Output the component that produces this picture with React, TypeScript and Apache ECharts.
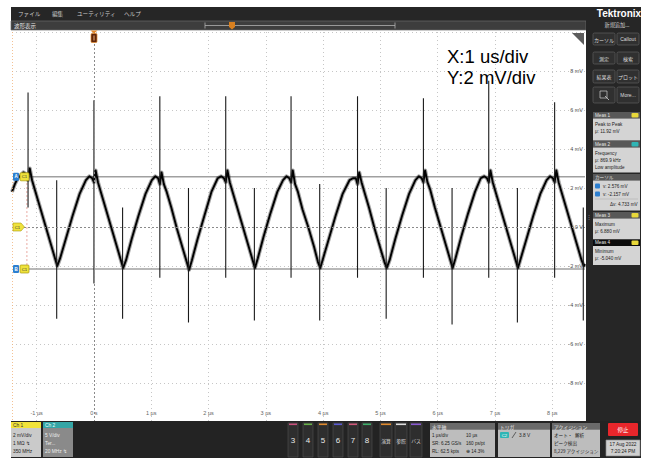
import React, { useEffect, useRef } from 'react';
import * as echarts from 'echarts';

// ---------- axis data ----------
const X_MIN = -1.43;
const X_MAX = 8.57;
const xTicks = [-1, 0, 1, 2, 3, 4, 5, 6, 7, 8];
const xTickLabels = ['-1 µs', '0 s', '1 µs', '2 µs', '3 µs', '4 µs', '5 µs', '6 µs', '7 µs', '8 µs'];
const yTicks = [-8, -6, -4, -2, 0, 2, 4, 6, 8];
const yTickLabels = ['-8 mV', '-6 mV', '-4 mV', '-2 mV', '0 V', '2 mV', '4 mV', '6 mV', '8 mV'];

// ---------- waveform (µs, mV) ----------
const traceT = [
  -1.43, -1.38, -1.33,
  -1.29, -1.23, -1.18, -1.15, -1.12, -1.08, -1.03, -0.95, -0.85, -0.75, -0.68, -0.64, -0.59, -0.49, -0.37, -0.25,
  -0.14, -0.08, -0.03, 0, 0.03, 0.07, 0.12, 0.2, 0.3, 0.4, 0.47, 0.51, 0.56, 0.66, 0.78, 0.9,
  1.01, 1.07, 1.12, 1.15, 1.18, 1.22, 1.27, 1.35, 1.45, 1.55, 1.62, 1.66, 1.71, 1.81, 1.93, 2.05,
  2.16, 2.22, 2.27, 2.3, 2.33, 2.37, 2.42, 2.5, 2.6, 2.7, 2.77, 2.81, 2.86, 2.96, 3.08, 3.2,
  3.3, 3.36, 3.41, 3.44, 3.47, 3.51, 3.56, 3.64, 3.74, 3.84, 3.91, 3.95, 4.0, 4.1, 4.22, 4.34,
  4.46, 4.52, 4.57, 4.6, 4.63, 4.67, 4.72, 4.8, 4.9, 5.0, 5.07, 5.11, 5.16, 5.26, 5.38, 5.5,
  5.61, 5.67, 5.72, 5.75, 5.78, 5.82, 5.87, 5.95, 6.05, 6.15, 6.22, 6.26, 6.31, 6.41, 6.53, 6.65,
  6.75, 6.81, 6.86, 6.89, 6.92, 6.96, 7.01, 7.09, 7.19, 7.29, 7.36, 7.4, 7.45, 7.55, 7.67, 7.79,
  7.9, 7.96, 8.01, 8.04, 8.07, 8.11, 8.16, 8.24, 8.34, 8.44, 8.51, 8.55, 8.57,
];
const traceV = [
  1.8, 2.2, 2.5,
  2.6, 2.8, 2.7, 2.4, 3.0, 2.4, 1.9, 1.1, 0.1, -0.9, -1.6, -2.0, -1.6, -0.6, 0.6, 1.7,
  2.4, 2.6, 2.5, 2.3, 2.9, 2.3, 1.8, 1.0, 0.0, -1.0, -1.7, -2.1, -1.7, -0.6, 0.6, 1.7,
  2.4, 2.6, 2.5, 2.2, 2.8, 2.2, 1.8, 1.0, -0.1, -1.1, -1.8, -2.2, -1.7, -0.6, 0.6, 1.8,
  2.5, 2.6, 2.5, 2.3, 2.9, 2.3, 1.8, 1.0, 0.0, -1.0, -1.7, -2.1, -1.6, -0.5, 0.7, 1.8,
  2.4, 2.6, 2.5, 2.3, 2.9, 2.2, 1.8, 0.9, 0.0, -1.0, -1.8, -2.1, -1.6, -0.6, 0.6, 1.7,
  2.4, 2.5, 2.5, 2.2, 2.8, 2.3, 1.8, 1.0, -0.1, -1.1, -1.8, -2.1, -1.7, -0.6, 0.6, 1.7,
  2.4, 2.6, 2.5, 2.3, 2.9, 2.3, 1.9, 1.0, 0.0, -1.0, -1.7, -2.1, -1.6, -0.5, 0.7, 1.8,
  2.5, 2.6, 2.5, 2.3, 2.9, 2.3, 1.8, 1.0, 0.0, -1.0, -1.7, -2.1, -1.6, -0.6, 0.6, 1.7,
  2.4, 2.6, 2.5, 2.3, 2.9, 2.3, 1.8, 1.0, 0.0, -1.0, -1.7, -2.0, -1.9,
];

// ringing spikes
const upSpikeT = [-1.15, 0, 1.15, 2.3, 3.44, 4.6, 5.75, 6.89, 8.04];
const upSpikeTop = [6.9, 6.5, 6.7, 6.7, 6.7, 6.7, 6.6, 7.5, 6.4];
const upSpikeBottom = [1.0, -2.9, -2.6, -2.6, -2.6, -2.6, -2.6, -2.6, -2.6];
const downSpikeT = [-0.65, 0.5, 1.65, 2.8, 3.94, 5.1, 6.25, 7.39, 8.54];
const downSpikeBottom = [-4.7, -4.7, -4.9, -4.8, -4.8, -4.7, -5.0, -4.9, -4.8];
const downSpikeTop = [2.4, 1.0, 2.0, 2.0, 2.2, 2.0, 2.0, 2.0, 1.0];

// cursors
const cursorA = 2.576;
const cursorB = -2.157;
const cursorStartT = -1.17;

const FONT = '"Liberation Sans", Arial, sans-serif';
const JP = '"Noto Sans CJK JP", "Noto Sans", sans-serif';

type Any = any;

const txt = (x: number, y: number, text: string, size: number, fill: string, o: Any = {}): Any => ({
  type: 'text',
  x,
  y,
  z: 100,
  silent: true,
  style: {
    text,
    fontSize: size,
    fill,
    fontFamily: o.font || FONT,
    fontWeight: o.weight || 'normal',
    textAlign: o.align || 'left',
    textVerticalAlign: 'middle',
  },
});

const rect = (x: number, y: number, w: number, h: number, fill: string, stroke?: string, r = 0): Any => ({
  type: 'rect',
  z: 90,
  silent: true,
  shape: { x, y, width: w, height: h, r },
  style: { fill, stroke: stroke || 'none', lineWidth: stroke ? 0.7 : 0 },
});

const line = (x1: number, y1: number, x2: number, y2: number, stroke: string, lw = 1, dash?: number[]): Any => ({
  type: 'line',
  z: 95,
  silent: true,
  shape: { x1, y1, x2, y2 },
  style: { stroke, lineWidth: lw, lineDash: dash },
});

function buildGraphics(): Any[] {
  const g: Any[] = [];
  // chrome
  g.push(rect(11, 7, 630, 14, '#262626'));
  g.push(rect(11, 21, 575, 9, '#3d3d3d', '#6a6a6a'));
  g.push(rect(586, 7, 55, 414, '#262626'));
  g.push(rect(11, 421, 630, 37, '#232323'));
  // menu
  g.push(txt(18, 14, 'ファイル', 5.6, '#c8c8c8', { font: JP }));
  g.push(txt(52, 14, '編集', 5.6, '#c8c8c8', { font: JP }));
  g.push(txt(77, 14, 'ユーティリティ', 5.6, '#c8c8c8', { font: JP }));
  g.push(txt(124, 14, 'ヘルプ', 5.6, '#c8c8c8', { font: JP }));
  g.push(txt(14, 25.5, '波形表示', 5.5, '#e6e6e6', { font: JP }));
  // overview bracket
  g.push(line(205, 25.5, 395, 25.5, '#b0b0b0', 0.8));
  g.push(line(205, 22.5, 205, 28.5, '#b0b0b0', 0.8));
  g.push(line(395, 22.5, 395, 28.5, '#b0b0b0', 0.8));
  g.push({ type: 'polygon', z: 100, silent: true, shape: { points: [[229, 22], [235, 22], [235, 27], [232, 29.5], [229, 27]] }, style: { fill: '#d9801f' } });
  // trigger marker
  g.push({ type: 'polygon', z: 100, silent: true, shape: { points: [[90.5, 30.5], [97.5, 30.5], [94, 33.5]] }, style: { fill: '#e58a2a' } });
  g.push(rect(91, 33.5, 6, 9, '#5e260c', '#e58a2a', 1));
  g.push(line(94, 35.5, 94, 40.5, '#f0b070', 1));
  // corner flag
  g.push({ type: 'polygon', z: 100, silent: true, shape: { points: [[572, 33], [584, 33], [584, 45]] }, style: { fill: '#5c5c5c' } });
  // left edge dotted line
  g.push(line(12.5, 32, 12.5, 420, '#f1b27a', 0.8, [1, 2]));
  // left markers
  const cy = [176.8, 269];
  cy.forEach((y, i) => {
    g.push(rect(13, y - 4, 6, 8, '#2d7fd0', undefined, 1));
    g.push(txt(16, y, i === 0 ? 'A' : 'B', 4.5, '#ffffff', { align: 'center', weight: 'bold' }));
    g.push(rect(20, y - 4, 9, 8, '#efe23c', '#a89a10', 1));
    g.push(txt(24.5, y, 'C1', 4.2, '#333', { align: 'center' }));
  });
  g.push({ type: 'polygon', z: 100, silent: true, shape: { points: [[13, 223], [21, 223], [24.5, 227], [21, 231], [13, 231]] }, style: { fill: '#efe23c', stroke: '#a89a10', lineWidth: 0.6 } });
  g.push(txt(17.5, 227, 'C1', 4.2, '#333', { align: 'center' }));

  // overlay text
  g.push(txt(447, 56.5, 'X:1 us/div', 18.5, '#000', { font: FONT }));
  g.push(txt(447, 77, 'Y:2 mV/div', 18.5, '#000', { font: FONT }));

  // right panel
  g.push(txt(619, 13, 'Tektronix', 10, '#ffffff', { align: 'center', weight: 'bold' }));
  g.push(txt(617, 24, '新規追加...', 5.2, '#d0d0d0', { align: 'center', font: JP }));
  const btn = (x: number, y: number, w: number, h: number, label: string, font = JP) => {
    g.push(rect(x, y, w, h, '#303030', '#5e5e5e', 1.5));
    g.push(txt(x + w / 2, y + h / 2, label, 5, '#dcdcdc', { align: 'center', font }));
  };
  btn(593, 33, 22, 12, 'カーソル');
  btn(617, 33, 22, 12, 'Callout', FONT);
  btn(593, 52, 22, 12, '測定');
  btn(617, 52, 22, 12, '検索');
  btn(593, 70, 22, 13, '結果表');
  btn(617, 70, 22, 13, 'プロット');
  btn(593, 87, 22, 16, '');
  btn(617, 87, 22, 16, 'More...', FONT);
  g.push(rect(600, 91, 7, 7, 'none', '#cfcfcf'));
  g.push(line(605, 96, 609, 100, '#cfcfcf', 0.8));

  const header = (y: number, label: string, badge: string | null, dark = false, font = FONT) => {
    g.push(rect(593, y, 47, 6.5, dark ? '#0c0c0c' : '#585858'));
    g.push(txt(595, y + 3.3, label, 4.6, '#e6e6e6', { font }));
    if (badge) {
      g.push(rect(631.5, y + 1, 7, 4.5, badge, undefined, 1));
    }
  };
  const body = (y: number, h: number) => g.push(rect(593, y, 47, h, '#d4d4d4'));
  header(112, 'Meas 1', '#e8d83a');
  body(118.5, 22);
  g.push(txt(595, 124, 'Peak to Peak', 4.6, '#222'));
  g.push(txt(595, 131, 'μ: 11.92 mV', 4.6, '#222'));
  header(141, 'Meas 2', '#2fb5b5');
  body(147.5, 25);
  g.push(txt(595, 153, 'Frequency', 4.6, '#222'));
  g.push(txt(595, 160, 'μ: 869.9 kHz', 4.6, '#222'));
  g.push(txt(595, 167, 'Low amplitude', 4.6, '#222'));
  header(174, 'カーソル', null, false, JP);
  body(180.5, 30);
  g.push(rect(595, 183.5, 5, 5, '#2d7fd0', undefined, 1));
  g.push(txt(603, 186, 'v: 2.576 mV', 4.6, '#222'));
  g.push(rect(595, 191.5, 5, 5, '#2d7fd0', undefined, 1));
  g.push(txt(603, 194, 'v: -2.157 mV', 4.6, '#222'));
  g.push(line(595, 199, 638, 199, '#aaaaaa', 0.5));
  g.push(txt(610, 204, 'Δv: 4.733 mV', 4.6, '#222'));
  header(212, 'Meas 3', '#e8d83a');
  body(218.5, 21);
  g.push(txt(595, 224, 'Maximum', 4.6, '#222'));
  g.push(txt(595, 231, 'μ: 6.880 mV', 4.6, '#222'));
  header(239.5, 'Meas 4', '#e8d83a', true);
  body(246, 19);
  g.push(txt(595, 251, 'Minimum', 4.6, '#222'));
  g.push(txt(595, 258, 'μ: -5.040 mV', 4.6, '#222'));
  g.push(txt(588.5, 217, '⋮', 6, '#888', { align: 'center' }));

  // bottom bar : channels
  g.push(rect(11, 422, 30, 6, '#f2e33a'));
  g.push(txt(13, 425, 'Ch 1', 4.8, '#333'));
  g.push(rect(11, 428, 30, 29, '#cacaca'));
  g.push(txt(13, 435, '2 mV/div', 4.8, '#222'));
  g.push(txt(13, 443, '1 MΩ ↯', 4.8, '#222'));
  g.push(txt(13, 451, '350 MHz', 4.8, '#222'));
  g.push(rect(43, 422, 30, 6, '#35a6a6'));
  g.push(txt(45, 425, 'Ch 2', 4.8, '#e8ffff'));
  g.push(rect(43, 428, 30, 29, '#8a8a8a'));
  g.push(txt(45, 435, '5 V/div', 4.8, '#eeeeee'));
  g.push(txt(45, 443, 'Ter...', 4.8, '#eeeeee'));
  g.push(txt(45, 451, '20 MHz ↯', 4.8, '#eeeeee'));

  const chBtn = [
    { x: 288, n: '3', c: '#c8507c' },
    { x: 303, n: '4', c: '#68b04a' },
    { x: 318, n: '5', c: '#e08a2e' },
    { x: 333, n: '6', c: '#5a5ad0' },
    { x: 348, n: '7', c: '#d0587a' },
    { x: 362, n: '8', c: '#3fae6a' },
  ];
  chBtn.forEach((b) => {
    g.push(rect(b.x, 423, 10, 34, '#2e2e2e', '#4a4a4a'));
    g.push(rect(b.x + 1, 423.5, 8, 1.6, b.c));
    g.push(txt(b.x + 5, 440, b.n, 8, '#e8e8e8', { align: 'center' }));
  });
  const fnBtn = [
    { x: 380, n: '演算', c: '#e08a2e' },
    { x: 395, n: '参照', c: '#dddddd' },
    { x: 410, n: 'バス', c: '#8a5ad0' },
  ];
  fnBtn.forEach((b) => {
    g.push(rect(b.x, 423, 12, 34, '#2e2e2e', '#4a4a4a'));
    g.push(rect(b.x + 1, 423.5, 10, 1.6, b.c));
    g.push(txt(b.x + 6, 440, b.n, 4.8, '#dddddd', { align: 'center', font: JP }));
  });
  // horizontal panel
  const panel = (x: number, w: number, title: string) => {
    g.push(rect(x, 423, w, 6.5, '#6a6a6a'));
    g.push(txt(x + 2, 426.3, title, 4.8, '#f0f0f0', { font: JP }));
    g.push(rect(x, 429.5, w, 27.5, '#bdbdbd'));
  };
  panel(430, 65, '水平軸');
  g.push(txt(432, 435, '1 µs/div', 4.6, '#222'));
  g.push(txt(466, 435, '10 µs', 4.6, '#222'));
  g.push(txt(432, 443, 'SR: 6.25 GS/s', 4.6, '#222'));
  g.push(txt(466, 443, '160 ps/pt', 4.6, '#222'));
  g.push(txt(432, 451, 'RL: 62.5 kpts', 4.6, '#222'));
  g.push(txt(466, 451, '⊕ 14.3%', 4.6, '#222'));
  panel(498, 52, 'トリガ');
  g.push(rect(500, 432, 9, 6, '#2fb5b5', undefined, 1));
  g.push(txt(504.5, 435, 'C2', 4.2, '#ffffff', { align: 'center' }));
  g.push(line(512, 438, 516, 432, '#333', 0.7));
  g.push(txt(519, 435, '3.8 V', 4.8, '#222'));
  panel(552, 48, 'アクイジション');
  g.push(txt(554, 435, 'オート・', 4.6, '#222', { font: JP }));
  g.push(txt(575, 435, '解析', 4.6, '#222', { font: JP }));
  g.push(txt(554, 443, 'ピーク検出', 4.6, '#222', { font: JP }));
  g.push(txt(554, 451, '8,229 アクイジション', 4.6, '#222', { font: JP }));
  // stop & date
  g.push(rect(608, 423, 30, 13, '#e8262b', undefined, 1));
  g.push(txt(623, 429.5, '停止', 5.5, '#ffffff', { align: 'center', font: JP }));
  g.push(rect(606, 440, 34, 16, '#cfcfcf', '#8a8a8a'));
  g.push(txt(623, 444.5, '17 Aug 2022', 4.8, '#222', { align: 'center' }));
  g.push(txt(623, 451.5, '7:20:24 PM', 4.8, '#222', { align: 'center' }));
  return g;
}

function buildOption(): Any {
  const trace = traceT.map((t, i) => [t, traceV[i]]);
  const series: Any[] = [
    {
      type: 'line',
      data: [],
      silent: true,
      markLine: {
        symbol: 'none',
        silent: true,
        animation: false,
        label: { show: false },
        lineStyle: { color: '#8a8a8a', type: [2, 2], width: 1 },
        data: [{ yAxis: 0 }, { xAxis: 0 }],
      },
    },
    {
      type: 'line',
      data: [[cursorStartT, cursorA], [X_MAX, cursorA]],
      symbol: 'none',
      silent: true,
      lineStyle: { color: '#a0a0a0', width: 1.6 },
    },
    {
      type: 'line',
      data: [[cursorStartT, cursorB], [X_MAX, cursorB]],
      symbol: 'none',
      silent: true,
      lineStyle: { color: '#a0a0a0', width: 1.6 },
    },
    {
      type: 'line',
      data: [[cursorStartT, cursorB], [cursorStartT, cursorA]],
      symbol: 'none',
      silent: true,
      lineStyle: { color: '#e9a9a0', width: 1, type: [2, 2] },
    },
    {
      type: 'line',
      data: trace,
      symbol: 'none',
      silent: true,
      lineStyle: { color: 'rgba(30,30,30,0.4)', width: 4, join: 'round' },
    },
    {
      type: 'line',
      data: trace,
      symbol: 'none',
      silent: true,
      lineStyle: { color: '#000000', width: 1.9, join: 'round' },
    },
    ...upSpikeT.map((t, i) => ({
      type: 'line',
      data: [[t, upSpikeBottom[i]], [t, upSpikeTop[i]]],
      symbol: 'none',
      silent: true,
      lineStyle: { color: '#1a1a1a', width: 1.1 },
    })),
    ...downSpikeT.map((t, i) => ({
      type: 'line',
      data: [[t, downSpikeTop[i]], [t, downSpikeBottom[i]]],
      symbol: 'none',
      silent: true,
      lineStyle: { color: '#1a1a1a', width: 1.1 },
    })),
  ];

  return {
    animation: false,
    backgroundColor: '#ffffff',
    grid: { left: 12, top: 32, width: 573, height: 390, containLabel: false, outerBoundsMode: 'none' },
    xAxis: {
      type: 'value',
      min: X_MIN,
      max: X_MAX,
      axisLine: { show: false },
      axisTick: { show: false, customValues: xTicks },
      axisLabel: {
        customValues: xTicks,
        inside: true,
        margin: 6,
        fontSize: 5.5,
        color: '#666',
        fontFamily: FONT,
        formatter: (v: number) => {
          const i = xTicks.indexOf(Math.round(v * 100) / 100);
          return i >= 0 ? xTickLabels[i] : '';
        },
      },
      splitLine: { show: true, lineStyle: { color: '#c6c6c6', type: [1, 3], width: 1 } },
    },
    yAxis: {
      type: 'value',
      min: -10,
      max: 10,
      interval: 2,
      position: 'right',
      axisLine: { show: false },
      axisTick: { show: false },
      axisLabel: {
        inside: true,
        margin: 2,
        fontSize: 5.5,
        color: '#555',
        fontFamily: FONT,
        showMinLabel: false,
        showMaxLabel: false,
        formatter: (v: number) => {
          const i = yTicks.indexOf(Math.round(v));
          return i >= 0 ? yTickLabels[i] : '';
        },
      },
      splitLine: { show: true, lineStyle: { color: '#c6c6c6', type: [1, 3], width: 1 } },
    },
    series,
    graphic: { elements: buildGraphics() },
  };
}

export default function App() {
  const ref = useRef<HTMLDivElement>(null);
  useEffect(() => {
    if (!ref.current) return;
    const chart = echarts.init(ref.current, null, { renderer: 'svg' });
    chart.setOption(buildOption());
    return () => chart.dispose();
  }, []);
  return (
    <div
      ref={ref}
      style={{ position: 'fixed', left: 0, top: 0, width: 648, height: 459, background: '#ffffff' }}
    />
  );
}
